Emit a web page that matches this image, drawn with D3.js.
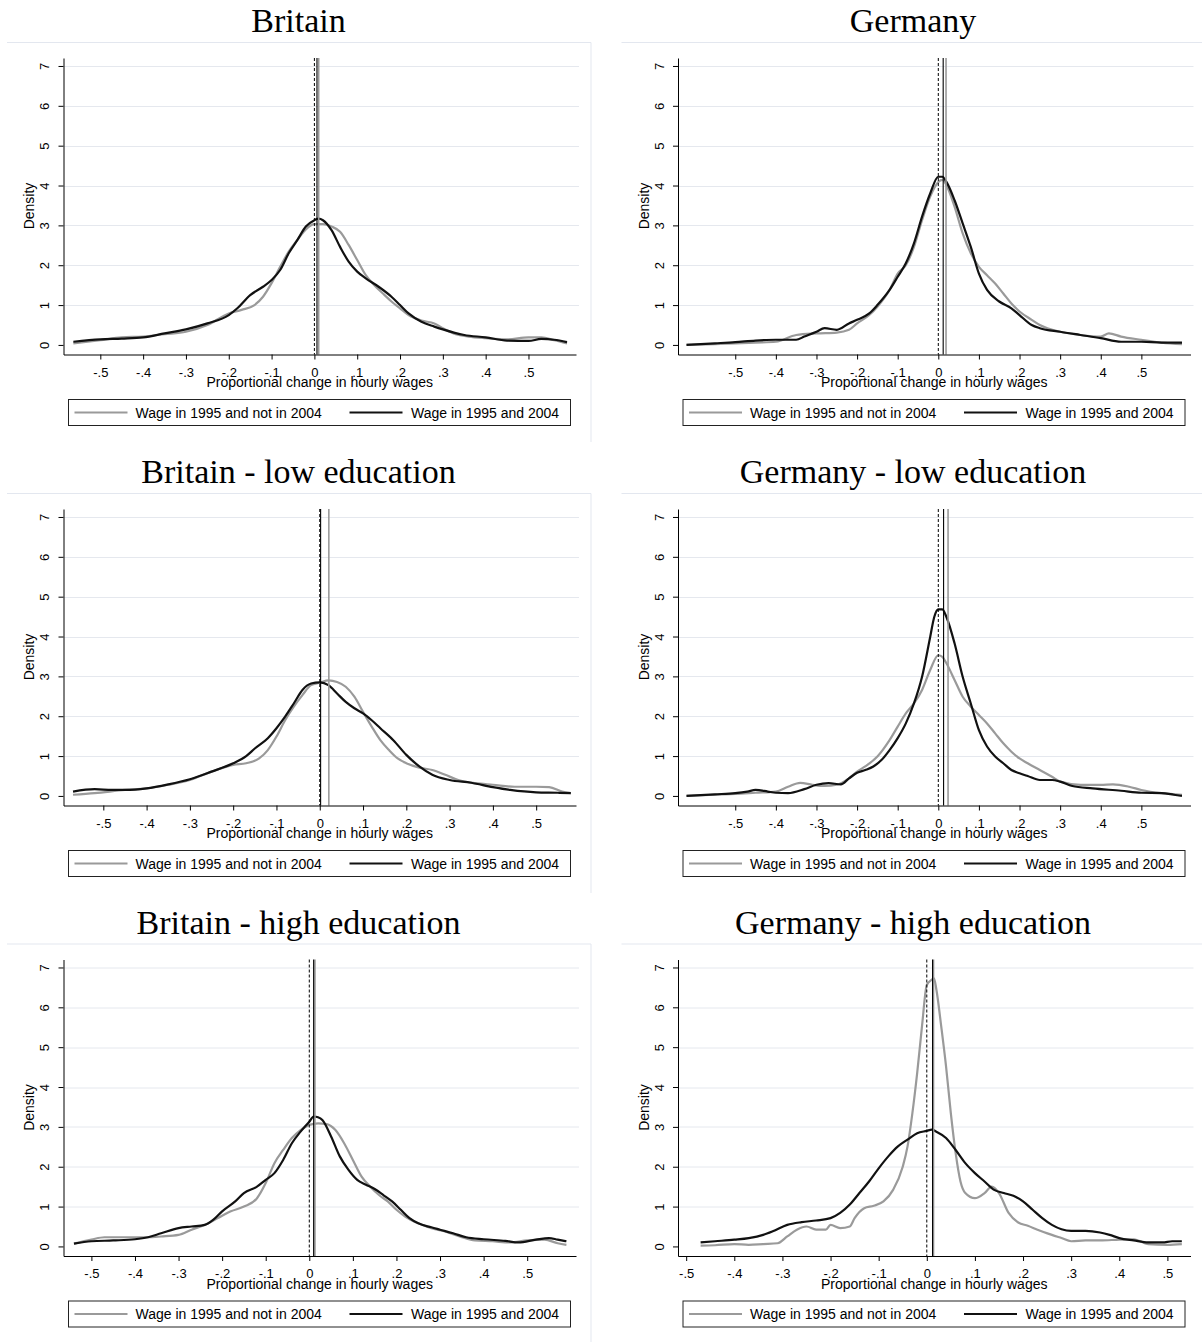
<!DOCTYPE html>
<html><head><meta charset="utf-8">
<script src="https://cdn.jsdelivr.net/npm/d3@7/dist/d3.min.js"></script>
<style>body{margin:0;background:#fff}</style></head>
<body><svg id="c" width="1202" height="1342"></svg>
<script>
// ---------- tick values & labels ----------
const xTickValues = [-0.5,-0.4,-0.3,-0.2,-0.1,0,0.1,0.2,0.3,0.4,0.5];
const xTickLabels = ["-.5","-.4","-.3","-.2","-.1","0",".1",".2",".3",".4",".5"];
const yTickValues = [0,1,2,3,4,5,6,7];
const yTickLabels = ["0","1","2","3","4","5","6","7"];
const panelTitles = ["Britain","Germany","Britain - low education","Germany - low education","Britain - high education","Germany - high education"];
const legendLabels = ["Wage in 1995 and not in 2004","Wage in 1995 and 2004"];
const xAxisTitle = "Proportional change in hourly wages";
const yAxisTitle = "Density";

// ---------- series: [x, density] ----------
const britainBlack = [[-0.563,0.08],[-0.5,0.14],[-0.45,0.16],[-0.4,0.19],[-0.35,0.29],[-0.3,0.39],[-0.25,0.54],[-0.2,0.75],[-0.18,0.92],[-0.15,1.25],[-0.12,1.46],[-0.1,1.63],[-0.08,1.88],[-0.06,2.3],[-0.04,2.63],[-0.02,2.97],[0,3.13],[0.01,3.17],[0.02,3.13],[0.04,2.88],[0.06,2.46],[0.08,2.09],[0.1,1.84],[0.12,1.67],[0.15,1.46],[0.18,1.21],[0.2,1.0],[0.22,0.79],[0.25,0.58],[0.28,0.46],[0.3,0.39],[0.35,0.25],[0.4,0.19],[0.45,0.11],[0.5,0.1],[0.53,0.15],[0.56,0.13],[0.59,0.07]];
const britainGray = [[-0.563,0.04],[-0.5,0.12],[-0.45,0.19],[-0.4,0.21],[-0.35,0.27],[-0.3,0.33],[-0.25,0.5],[-0.2,0.79],[-0.17,0.88],[-0.14,1.0],[-0.12,1.21],[-0.1,1.55],[-0.08,1.96],[-0.06,2.34],[-0.04,2.63],[-0.02,2.9],[0,3.03],[0.02,3.03],[0.04,2.97],[0.06,2.84],[0.08,2.51],[0.1,2.13],[0.12,1.75],[0.14,1.5],[0.16,1.29],[0.18,1.09],[0.2,0.92],[0.22,0.75],[0.25,0.61],[0.28,0.54],[0.3,0.42],[0.33,0.27],[0.36,0.21],[0.4,0.17],[0.45,0.14],[0.5,0.19],[0.53,0.19],[0.56,0.12],[0.59,0.04]];

const germanyBlack = [[-0.62,0.0],[-0.55,0.04],[-0.5,0.07],[-0.45,0.11],[-0.4,0.13],[-0.35,0.13],[-0.33,0.21],[-0.3,0.33],[-0.28,0.42],[-0.25,0.38],[-0.22,0.54],[-0.2,0.63],[-0.17,0.79],[-0.15,1.0],[-0.12,1.38],[-0.1,1.71],[-0.08,2.05],[-0.06,2.55],[-0.04,3.22],[-0.02,3.8],[0,4.22],[0.01,4.22],[0.02,4.09],[0.04,3.63],[0.06,3.05],[0.08,2.46],[0.1,1.79],[0.12,1.38],[0.15,1.09],[0.18,0.92],[0.2,0.75],[0.23,0.5],[0.25,0.42],[0.3,0.33],[0.35,0.25],[0.4,0.17],[0.45,0.08],[0.5,0.08],[0.55,0.06],[0.6,0.06]];
const germanyGray = [[-0.62,0.0],[-0.55,0.02],[-0.5,0.04],[-0.45,0.06],[-0.4,0.08],[-0.35,0.25],[-0.3,0.29],[-0.25,0.31],[-0.22,0.38],[-0.2,0.54],[-0.17,0.75],[-0.15,0.96],[-0.12,1.38],[-0.1,1.79],[-0.08,2.0],[-0.06,2.46],[-0.04,3.13],[-0.02,3.72],[0,4.09],[0.01,4.14],[0.02,4.01],[0.04,3.47],[0.06,2.8],[0.08,2.3],[0.1,1.96],[0.12,1.75],[0.14,1.54],[0.16,1.29],[0.18,1.04],[0.2,0.84],[0.23,0.63],[0.25,0.5],[0.3,0.33],[0.35,0.25],[0.4,0.21],[0.42,0.29],[0.45,0.21],[0.5,0.13],[0.55,0.06],[0.6,0.02]];

const britainLowBlack = [[-0.57,0.11],[-0.52,0.17],[-0.48,0.15],[-0.45,0.15],[-0.4,0.19],[-0.35,0.29],[-0.3,0.42],[-0.25,0.61],[-0.2,0.82],[-0.17,1.0],[-0.15,1.19],[-0.12,1.45],[-0.1,1.7],[-0.08,1.99],[-0.06,2.32],[-0.04,2.66],[-0.02,2.82],[0,2.85],[0.02,2.78],[0.04,2.57],[0.06,2.36],[0.08,2.2],[0.1,2.07],[0.12,1.9],[0.14,1.7],[0.17,1.4],[0.2,1.03],[0.23,0.74],[0.26,0.53],[0.3,0.4],[0.35,0.33],[0.4,0.22],[0.44,0.15],[0.5,0.09],[0.55,0.08],[0.58,0.07]];
const britainLowGray = [[-0.57,0.03],[-0.52,0.07],[-0.45,0.15],[-0.4,0.19],[-0.35,0.28],[-0.3,0.4],[-0.25,0.61],[-0.2,0.78],[-0.17,0.82],[-0.14,0.94],[-0.12,1.15],[-0.1,1.49],[-0.08,1.9],[-0.06,2.24],[-0.04,2.53],[-0.02,2.78],[0,2.84],[0.02,2.9],[0.04,2.86],[0.06,2.74],[0.08,2.49],[0.1,2.11],[0.12,1.74],[0.14,1.4],[0.16,1.15],[0.18,0.94],[0.2,0.82],[0.23,0.71],[0.26,0.65],[0.29,0.53],[0.32,0.4],[0.36,0.32],[0.4,0.28],[0.45,0.23],[0.5,0.23],[0.53,0.22],[0.56,0.11],[0.58,0.07]];

const germanyLowBlack = [[-0.62,0.0],[-0.55,0.04],[-0.5,0.07],[-0.47,0.11],[-0.45,0.15],[-0.42,0.11],[-0.4,0.08],[-0.37,0.07],[-0.33,0.17],[-0.3,0.28],[-0.27,0.32],[-0.24,0.29],[-0.22,0.44],[-0.2,0.58],[-0.18,0.65],[-0.16,0.74],[-0.14,0.9],[-0.12,1.15],[-0.1,1.45],[-0.08,1.82],[-0.06,2.32],[-0.04,2.99],[-0.02,3.99],[-0.01,4.49],[0,4.68],[0.01,4.68],[0.02,4.49],[0.04,3.83],[0.06,2.99],[0.08,2.32],[0.1,1.65],[0.12,1.24],[0.14,0.99],[0.16,0.82],[0.18,0.65],[0.2,0.57],[0.22,0.5],[0.25,0.4],[0.28,0.4],[0.3,0.36],[0.33,0.25],[0.38,0.19],[0.45,0.13],[0.5,0.08],[0.55,0.07],[0.58,0.03],[0.6,0.0]];
const germanyLowGray = [[-0.62,0.0],[-0.55,0.03],[-0.5,0.05],[-0.45,0.08],[-0.4,0.11],[-0.37,0.23],[-0.34,0.33],[-0.31,0.28],[-0.28,0.25],[-0.25,0.28],[-0.22,0.44],[-0.2,0.61],[-0.18,0.74],[-0.15,0.99],[-0.12,1.4],[-0.1,1.74],[-0.08,2.07],[-0.06,2.32],[-0.04,2.66],[-0.02,3.16],[0,3.53],[0.01,3.49],[0.02,3.33],[0.04,2.91],[0.06,2.49],[0.08,2.24],[0.1,2.03],[0.12,1.82],[0.14,1.57],[0.16,1.32],[0.18,1.11],[0.2,0.94],[0.22,0.82],[0.25,0.65],[0.28,0.48],[0.3,0.36],[0.35,0.28],[0.4,0.28],[0.43,0.29],[0.47,0.23],[0.5,0.15],[0.55,0.07],[0.6,0.03]];

const britainHighBlack = [[-0.54,0.07],[-0.5,0.13],[-0.45,0.15],[-0.4,0.18],[-0.37,0.23],[-0.34,0.33],[-0.3,0.46],[-0.27,0.5],[-0.24,0.54],[-0.22,0.67],[-0.2,0.88],[-0.17,1.13],[-0.15,1.34],[-0.12,1.5],[-0.1,1.67],[-0.08,1.84],[-0.06,2.17],[-0.04,2.59],[-0.02,2.88],[0,3.13],[0.01,3.26],[0.02,3.24],[0.03,3.17],[0.05,2.76],[0.07,2.26],[0.09,1.92],[0.11,1.67],[0.13,1.55],[0.15,1.44],[0.17,1.29],[0.19,1.13],[0.21,0.92],[0.23,0.71],[0.25,0.58],[0.28,0.48],[0.3,0.42],[0.33,0.33],[0.36,0.23],[0.4,0.18],[0.45,0.14],[0.48,0.1],[0.52,0.17],[0.55,0.21],[0.57,0.17],[0.59,0.13]];
const britainHighGray = [[-0.54,0.07],[-0.5,0.17],[-0.47,0.23],[-0.4,0.23],[-0.37,0.23],[-0.34,0.25],[-0.3,0.29],[-0.27,0.42],[-0.24,0.54],[-0.21,0.71],[-0.18,0.88],[-0.15,1.0],[-0.12,1.21],[-0.1,1.59],[-0.08,2.09],[-0.06,2.42],[-0.04,2.72],[-0.02,2.92],[0,3.05],[0.02,3.09],[0.04,3.07],[0.06,2.92],[0.08,2.59],[0.1,2.17],[0.12,1.75],[0.14,1.5],[0.16,1.29],[0.18,1.13],[0.2,0.92],[0.22,0.75],[0.25,0.58],[0.28,0.46],[0.31,0.38],[0.35,0.23],[0.38,0.15],[0.42,0.13],[0.46,0.1],[0.5,0.15],[0.54,0.17],[0.57,0.08],[0.59,0.04]];

const germanyHighBlack = [[-0.47,0.1],[-0.44,0.13],[-0.4,0.17],[-0.37,0.21],[-0.34,0.29],[-0.32,0.38],[-0.29,0.54],[-0.26,0.61],[-0.23,0.65],[-0.2,0.71],[-0.18,0.84],[-0.16,1.05],[-0.14,1.34],[-0.12,1.63],[-0.1,1.96],[-0.08,2.26],[-0.06,2.51],[-0.04,2.68],[-0.02,2.84],[0,2.9],[0.01,2.93],[0.02,2.88],[0.04,2.72],[0.06,2.42],[0.08,2.09],[0.1,1.84],[0.12,1.63],[0.14,1.42],[0.16,1.34],[0.18,1.27],[0.2,1.13],[0.22,0.92],[0.24,0.71],[0.26,0.54],[0.28,0.43],[0.3,0.39],[0.33,0.39],[0.36,0.35],[0.38,0.29],[0.4,0.21],[0.43,0.15],[0.46,0.1],[0.49,0.1],[0.51,0.13],[0.53,0.13]];
const germanyHighGray = [[-0.47,0.02],[-0.44,0.03],[-0.4,0.06],[-0.37,0.04],[-0.34,0.06],[-0.31,0.08],[-0.29,0.25],[-0.27,0.42],[-0.25,0.5],[-0.23,0.42],[-0.21,0.42],[-0.2,0.54],[-0.18,0.46],[-0.16,0.5],[-0.15,0.71],[-0.13,0.96],[-0.11,1.02],[-0.09,1.13],[-0.07,1.42],[-0.05,2.0],[-0.04,2.51],[-0.03,3.34],[-0.02,4.35],[-0.01,5.52],[0,6.56],[0.01,6.69],[0.015,6.73],[0.02,6.44],[0.03,5.52],[0.04,4.52],[0.05,3.34],[0.06,2.34],[0.07,1.63],[0.08,1.34],[0.1,1.21],[0.12,1.34],[0.135,1.5],[0.15,1.34],[0.17,0.84],[0.19,0.6],[0.21,0.52],[0.23,0.42],[0.26,0.29],[0.28,0.21],[0.3,0.13],[0.33,0.15],[0.36,0.15],[0.4,0.17],[0.43,0.18],[0.46,0.06],[0.5,0.04],[0.53,0.06]];

// medians (vertical reference lines): [black, gray]
const britainMedians = [0.006, 0.010];
const germanyMedians = [0.012, 0.019];
const britainLowMedians = [0.002, 0.021];
const germanyLowMedians = [0.013, 0.024];
const britainHighMedians = [0.010, 0.013];
const germanyHighMedians = [0.012, 0.014];

// x-axis ranges per panel
const britainXRange = [-0.586, 0.611];
const germanyXRange = [-0.641, 0.621];
const britainLowXRange = [-0.592, 0.592];
const germanyLowXRange = [-0.641, 0.621];
const britainHighXRange = [-0.564, 0.612];
const germanyHighXRange = [-0.517, 0.548];

const panels = [
  {title: panelTitles[0], gray: britainGray, black: britainBlack, med: britainMedians, xr: britainXRange, col: 0, row: 0},
  {title: panelTitles[1], gray: germanyGray, black: germanyBlack, med: germanyMedians, xr: germanyXRange, col: 1, row: 0},
  {title: panelTitles[2], gray: britainLowGray, black: britainLowBlack, med: britainLowMedians, xr: britainLowXRange, col: 0, row: 1},
  {title: panelTitles[3], gray: germanyLowGray, black: germanyLowBlack, med: germanyLowMedians, xr: germanyLowXRange, col: 1, row: 1},
  {title: panelTitles[4], gray: britainHighGray, black: britainHighBlack, med: britainHighMedians, xr: britainHighXRange, col: 0, row: 2},
  {title: panelTitles[5], gray: germanyHighGray, black: germanyHighBlack, med: germanyHighMedians, xr: germanyHighXRange, col: 1, row: 2}
];

const svg = d3.select("#c");
const colOff = [0, 614.5];
const rowOff = [0, 451, 901.5];
const SANS = "'Liberation Sans', Arial, sans-serif";
const SERIF = "'Liberation Serif', 'Times New Roman', serif";
const GRAY = "#9a9a9a", BLACK = "#111";

panels.forEach(p => {
  const g = svg.append("g").attr("transform", `translate(${colOff[p.col]},${rowOff[p.row]})`);
  // title
  g.append("text").attr("x", 298.5).attr("y", 32).attr("text-anchor", "middle")
    .attr("font-family", SERIF).attr("font-size", 34).attr("fill", "#000").text(p.title);
  // panel frame (light)
  g.append("line").attr("x1", 7).attr("x2", 591).attr("y1", 42.5).attr("y2", 42.5).attr("stroke", "#e3e7ef");
  g.append("line").attr("x1", 591).attr("x2", 591).attr("y1", 42.5).attr("y2", 442).attr("stroke", "#e3e7ef");

  const x = d3.scaleLinear().domain(p.xr).range([63.5, 576]);
  const y = d3.scaleLinear().domain([-0.24, 7.2]).range([354.5, 58]);

  // gridlines
  g.append("g").selectAll("line").data(yTickValues.filter(v => v > 0)).join("line")
    .attr("x1", 64).attr("x2", 579).attr("y1", d => Math.round(y(d)) + 0.5).attr("y2", d => Math.round(y(d)) + 0.5)
    .attr("stroke", "#e5e8ee").attr("stroke-width", 1);

  const line = d3.line().x(d => x(d[0])).y(d => y(d[1])).curve(d3.curveMonotoneX);
  g.append("path").datum(p.gray).attr("d", line).attr("fill", "none").attr("stroke", GRAY).attr("stroke-width", 2.2).attr("stroke-linejoin", "round");
  g.append("path").datum(p.black).attr("d", line).attr("fill", "none").attr("stroke", BLACK).attr("stroke-width", 2.2).attr("stroke-linejoin", "round");

  // reference lines
  g.append("line").attr("x1", x(p.med[1])).attr("x2", x(p.med[1])).attr("y1", 58).attr("y2", 354.5)
    .attr("stroke", GRAY).attr("stroke-width", 1.6);
  g.append("line").attr("x1", x(p.med[0])).attr("x2", x(p.med[0])).attr("y1", 58).attr("y2", 354.5)
    .attr("stroke", "#000").attr("stroke-width", 1.1);
  g.append("line").attr("x1", x(0)).attr("x2", x(0)).attr("y1", 58).attr("y2", 354.5)
    .attr("stroke", "#000").attr("stroke-width", 1).attr("stroke-dasharray", "3,2");

  // x axis
  const xa = g.append("g").attr("transform", "translate(0,354.5)")
    .call(d3.axisBottom(x).tickValues(xTickValues).tickFormat((d, i) => xTickLabels[i]).tickSize(5).tickSizeOuter(0).tickPadding(8));
  xa.select(".domain").attr("stroke", "#000");
  xa.selectAll("line").attr("stroke", "#000");
  xa.selectAll("text").attr("font-family", SANS).attr("font-size", 13).attr("fill", "#000");

  // y axis
  const ya = g.append("g").attr("transform", "translate(63.5,0)")
    .call(d3.axisLeft(y).tickValues(yTickValues).tickFormat((d, i) => yTickLabels[i]).tickSize(5).tickSizeOuter(0));
  ya.select(".domain").attr("stroke", "#000");
  ya.selectAll("line").attr("stroke", "#000");
  ya.selectAll("text").attr("font-family", SANS).attr("font-size", 13).attr("fill", "#000")
    .attr("transform", "rotate(-90)").attr("text-anchor", "middle").attr("x", 0).attr("y", -14.5).attr("dy", 0);

  // axis titles
  g.append("text").attr("x", (63.5 + 576) / 2).attr("y", 387).attr("text-anchor", "middle")
    .attr("font-family", SANS).attr("font-size", 14).attr("fill", "#000").text(xAxisTitle);
  g.append("text").attr("transform", "translate(34,206) rotate(-90)").attr("text-anchor", "middle")
    .attr("font-family", SANS).attr("font-size", 14).attr("fill", "#000").text(yAxisTitle);

  // legend
  const lg = g.append("g").attr("transform", "translate(68.5,399.5)");
  lg.append("rect").attr("width", 502).attr("height", 26).attr("fill", "#fff").attr("stroke", "#222").attr("stroke-width", 1);
  lg.append("line").attr("x1", 6).attr("x2", 59).attr("y1", 13).attr("y2", 13).attr("stroke", GRAY).attr("stroke-width", 2);
  lg.append("text").attr("x", 67).attr("y", 18).attr("font-family", SANS).attr("font-size", 14).attr("fill", "#000").text(legendLabels[0]);
  lg.append("line").attr("x1", 281).attr("x2", 334).attr("y1", 13).attr("y2", 13).attr("stroke", BLACK).attr("stroke-width", 2.2);
  lg.append("text").attr("x", 342.5).attr("y", 18).attr("font-family", SANS).attr("font-size", 14).attr("fill", "#000").text(legendLabels[1]);
});
</script>
</body></html>
